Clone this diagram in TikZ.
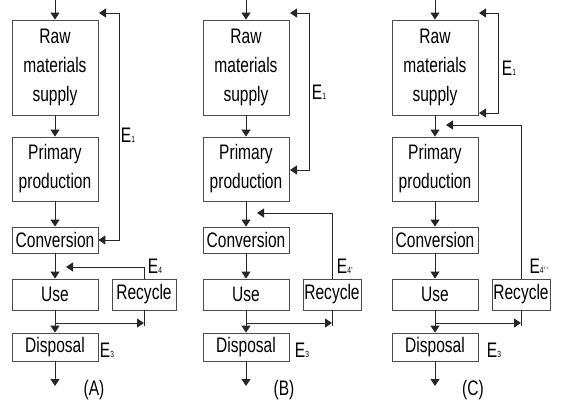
\documentclass[tikz,border=0pt]{standalone}
\usepackage{fontspec}
\setmainfont{Liberation Sans}[FakeStretch=0.74]
\usetikzlibrary{arrows.meta}
\tikzset{
  box/.style={draw=black!70, line width=0.8pt, inner sep=0pt, align=center,
    minimum width=86pt, font=\fontsize{21}{29}\selectfont},
  lab/.style={inner sep=0pt, font=\fontsize{21}{24}\selectfont},
  ln/.style={draw=black!85, line width=0.9pt},
  arr/.style={ln, -{Triangle[length=7pt,width=9pt]}},
  arrboth/.style={ln, {Triangle[length=7pt,width=9pt]}-{Triangle[length=7pt,width=9pt]}}
}
\newcommand{\sbs}[1]{{\fontsize{9}{9}\selectfont #1}}
\begin{document}
\begin{tikzpicture}[x=1pt,y=-1pt]
\useasboundingbox (0,0) rectangle (564,402);
% ================= Panel A =================
\node[box, minimum height=95pt] (rawA) at (55,67.5) {Raw\\materials\\supply};
\node[box, minimum height=64pt] (ppA) at (55,169) {Primary\\production};
\node[box, minimum height=26pt] (convA) at (55,240) {Conversion};
\node[box, minimum height=31pt] (useA) at (55,294.5) {Use};
\node[box, minimum width=64pt, minimum height=31pt] (recA) at (144,294.5) {Recycle};
\node[box, minimum height=28pt] (dispA) at (55,347) {Disposal};
\coordinate (inA) at (55,0);
\coordinate (outA) at (55,386);
\draw[arr] (inA) -- (rawA);
\draw[arr] (rawA) -- (ppA);
\draw[arr] (ppA) -- (convA);
\draw[arr] (convA) -- (useA);
\draw[arr] (useA) -- (dispA);
\draw[arr] (dispA) -- (outA);
\coordinate (A1) at (99,13);
\coordinate (A2) at (119,13);
\draw[arrboth] (A1) -- (A2) |- (convA.east);
\coordinate (A4) at (66,267);
\draw[arr] (recA.north) |- (A4);
\coordinate (A5) at (55,323);
\coordinate (A6) at (144,323);
\coordinate (A7) at (144,326);
\draw[ln] (recA.south) -- (A7);
\draw[arr] (A5) -- (A6);
\node[lab] (E1A) at (128,135) {E\sbs{1}};
\node[lab] (E4A) at (155,266) {E\sbs{4}};
\node[lab] (E3A) at (107,350) {E\sbs{3}};
\node[lab] (labA) at (94,390) {(A)};
% ================= Panel B =================
\node[box, minimum height=95pt] (rawB) at (246,67.5) {Raw\\materials\\supply};
\node[box, minimum height=64pt] (ppB) at (246,169) {Primary\\production};
\node[box, minimum height=26pt] (convB) at (246,240) {Conversion};
\node[box, minimum height=31pt] (useB) at (246,294.5) {Use};
\node[box, minimum width=58pt, minimum height=31pt] (recB) at (332,294.5) {Recycle};
\node[box, minimum height=28pt] (dispB) at (246,347) {Disposal};
\coordinate (inB) at (246,0);
\coordinate (outB) at (246,386);
\draw[arr] (inB) -- (rawB);
\draw[arr] (rawB) -- (ppB);
\draw[arr] (ppB) -- (convB);
\draw[arr] (convB) -- (useB);
\draw[arr] (useB) -- (dispB);
\draw[arr] (dispB) -- (outB);
\coordinate (B1) at (290,13);
\coordinate (B2) at (309,13);
\coordinate (B3) at (290,170);
\draw[arrboth] (B1) -- (B2) |- (B3);
\coordinate (B4) at (257,213);
\draw[arr] (recB.north) |- (B4);
\coordinate (B5) at (246,323);
\coordinate (B6) at (332,323);
\coordinate (B7) at (332,326);
\draw[ln] (recB.south) -- (B7);
\draw[arr] (B5) -- (B6);
\node[lab] (E1B) at (319,92) {E\sbs{1}};
\node[lab] (E4B) at (345,266) {E\sbs{4\kern0.3pt\textquotesingle}};
\node[lab] (E3B) at (302,350) {E\sbs{3}};
\node[lab] (labB) at (284,390) {(B)};
% ================= Panel C =================
\node[box, minimum height=95pt] (rawC) at (435,67.5) {Raw\\materials\\supply};
\node[box, minimum height=64pt] (ppC) at (435,169) {Primary\\production};
\node[box, minimum height=26pt] (convC) at (435,240) {Conversion};
\node[box, minimum height=31pt] (useC) at (435,294.5) {Use};
\node[box, minimum width=58pt, minimum height=31pt] (recC) at (521,294.5) {Recycle};
\node[box, minimum height=28pt] (dispC) at (435,347) {Disposal};
\coordinate (inC) at (435,0);
\coordinate (outC) at (435,386);
\draw[arr] (inC) -- (rawC);
\draw[arr] (rawC) -- (ppC);
\draw[arr] (ppC) -- (convC);
\draw[arr] (convC) -- (useC);
\draw[arr] (useC) -- (dispC);
\draw[arr] (dispC) -- (outC);
\coordinate (C1) at (479,13);
\coordinate (C2) at (498,13);
\coordinate (C3) at (479,113);
\draw[arrboth] (C1) -- (C2) |- (C3);
\coordinate (C4) at (446,125);
\draw[arr] (recC.north) |- (C4);
\coordinate (C5) at (435,323);
\coordinate (C6) at (521,323);
\coordinate (C7) at (521,326);
\draw[ln] (recC.south) -- (C7);
\draw[arr] (C5) -- (C6);
\node[lab] (E1C) at (509,68) {E\sbs{1}};
\node[lab] (E4C) at (539,266) {E\sbs{4\kern0.3pt\textquotesingle\kern1pt\textquotesingle}};
\node[lab] (E3C) at (494,350) {E\sbs{3}};
\node[lab] (labC) at (473,390) {(C)};
\end{tikzpicture}
\end{document}
